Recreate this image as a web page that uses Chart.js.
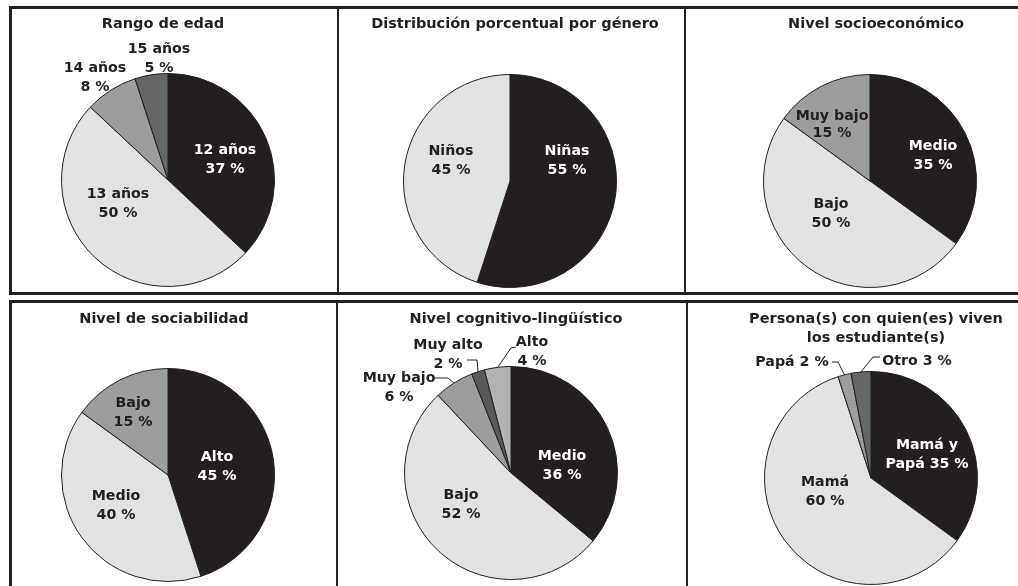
<!DOCTYPE html>
<html>
<head>
<meta charset="utf-8">
<script src="https://cdn.jsdelivr.net/npm/chart.js@4.4.1/dist/chart.umd.min.js"></script>
<style>
  html, body { margin: 0; padding: 0; background: #ffffff; }
  body { width: 1018px; height: 586px; position: relative; overflow: hidden; font-family: "DejaVu Sans", Verdana, sans-serif; }
  .box { position: absolute; border: 3px solid #231f20; box-sizing: border-box; }
  .vline { position: absolute; width: 2px; background: #231f20; }
  .title { position: absolute; width: 360px; text-align: center; font-weight: bold; font-size: 14.5px; line-height: 19px; color: #231f20; white-space: nowrap; }
  .pie { position: absolute; width: 340px; height: 290px; }
</style>
</head>
<body>
<div class="box" style="left:9px; top:6px; width:1030px; height:289px;"></div>
<div class="box" style="left:9px; top:300px; width:1030px; height:300px;"></div>
<div class="vline" style="left:337px; top:8px; height:286px;"></div>
<div class="vline" style="left:684px; top:8px; height:286px;"></div>
<div class="vline" style="left:336px; top:302px; height:290px;"></div>
<div class="vline" style="left:686px; top:302px; height:290px;"></div>

<script>
// ---------------- DATA ----------------
const titles = [
  ['Rango de edad'],
  ['Distribución porcentual por género'],
  ['Nivel socioeconómico'],
  ['Nivel de sociabilidad'],
  ['Nivel cognitivo-lingüístico'],
  ['Persona(s) con quien(es) viven', 'los estudiante(s)']
];

const edadCategories = ['12 años', '13 años', '14 años', '15 años'];
const edadValues = [37, 50, 8, 5];

const generoCategories = ['Niñas', 'Niños'];
const generoValues = [55, 45];

const socioCategories = ['Medio', 'Bajo', 'Muy bajo'];
const socioValues = [35, 50, 15];

const sociabCategories = ['Alto', 'Medio', 'Bajo'];
const sociabValues = [45, 40, 15];

const cognCategories = ['Medio', 'Bajo', 'Muy bajo', 'Muy alto', 'Alto'];
const cognValues = [36, 52, 6, 2, 4];

const viveCategories = ['Mamá y Papá', 'Mamá', 'Papá', 'Otro'];
const viveValues = [35, 60, 2, 3];

// ---------------- STYLE / LAYOUT ----------------
const BLACK = '#231f20', LIGHT = '#e1e2e4', MID = '#9c9d9f', DARK = '#656668', DARK2 = '#58595b', MIDL = '#b2b3b5';

const charts = [
  { cats: edadCategories, vals: edadValues, colors: [BLACK, LIGHT, MID, DARK],
    center: [168, 180], titleC: [163, 23],
    labels: [
      { d: [57, -20], color: '#fff', mode: 'stack' },
      { d: [-50, 24], mode: 'stack' },
      { d: [-73, -102], mode: 'stack' },
      { d: [-9, -121], mode: 'stack' }
    ] },
  { cats: generoCategories, vals: generoValues, colors: [BLACK, LIGHT],
    center: [510, 181], titleC: [515, 23],
    labels: [
      { d: [57, -20], color: '#fff', mode: 'stack' },
      { d: [-59, -20], mode: 'stack' }
    ] },
  { cats: socioCategories, vals: socioValues, colors: [BLACK, LIGHT, MID],
    center: [870, 181], titleC: [876, 23],
    labels: [
      { d: [63, -25], color: '#fff', mode: 'stack' },
      { d: [-39, 33], mode: 'stack' },
      { d: [-38, -56], mode: 'stack', lh: 17 }
    ] },
  { cats: sociabCategories, vals: sociabValues, colors: [BLACK, LIGHT, MID],
    center: [168, 475], titleC: [164, 318],
    labels: [
      { d: [49, -8], color: '#fff', mode: 'stack' },
      { d: [-52, 31], mode: 'stack' },
      { d: [-35, -62], mode: 'stack' }
    ] },
  { cats: cognCategories, vals: cognValues, colors: [BLACK, LIGHT, MID, DARK2, MIDL],
    center: [511, 473], titleC: [516, 318],
    labels: [
      { d: [51, -7], color: '#fff', mode: 'stack' },
      { d: [-50, 32], mode: 'stack' },
      { d: [-112, -85], mode: 'stack', leader: [-76, -95, -63, -95] },
      { d: [-63, -118], mode: 'stack', leader: [-44, -113, -34, -113] },
      { d: [21, -121], mode: 'stack', leader: [5, -126, 0, -125] }
    ] },
  { cats: viveCategories, vals: viveValues, colors: [BLACK, LIGHT, MID, DARK],
    center: [871, 478], titleC: [876, 318],
    labels: [
      { d: [56, -23], color: '#fff', mode: 'wrap' },
      { d: [-46, 14], mode: 'stack' },
      { d: [-79, -116], mode: 'inline', leader: [-39, -116, -33, -116] },
      { d: [46, -117], mode: 'inline', leader: [9, -121, 2, -121] }
    ] }
];

const PAD = { left: 63, right: 63, top: 60, bottom: 16 };
const FONT = 'bold 14.2px "DejaVu Sans", Verdana, sans-serif';

function labelLines(cat, val, mode) {
  if (mode === 'inline') return [cat + ' ' + val + ' %'];
  if (mode === 'wrap') {
    const i = cat.lastIndexOf(' ');
    return [cat.slice(0, i), cat.slice(i + 1) + ' ' + val + ' %'];
  }
  return [cat, val + ' %'];
}

const labelPlugin = {
  id: 'pieLabels',
  afterDraw(chart, args, opts) {
    const spec = opts.spec;
    const ctx = chart.ctx;
    const meta = chart.getDatasetMeta(0);
    ctx.save();
    ctx.font = FONT;
    ctx.textAlign = 'center';
    ctx.textBaseline = 'middle';
    meta.data.forEach((arc, i) => {
      const L = spec.labels[i];
      if (!L) return;
      const p = arc.getProps(['x', 'y', 'startAngle', 'endAngle', 'outerRadius'], true);
      const cx = p.x, cy = p.y;
      const lines = labelLines(spec.cats[i], spec.vals[i], L.mode);
      const lh = L.lh || 19;
      const y0 = cy + L.d[1] - (lines.length - 1) * lh / 2;
      ctx.fillStyle = L.color || BLACK;
      lines.forEach((t, k) => ctx.fillText(t, cx + L.d[0], y0 + k * lh));
      if (L.leader) {
        const mid = (p.startAngle + p.endAngle) / 2;
        const ex = cx + Math.cos(mid) * p.outerRadius;
        const ey = cy + Math.sin(mid) * p.outerRadius;
        ctx.strokeStyle = BLACK;
        ctx.lineWidth = 1;
        ctx.beginPath();
        ctx.moveTo(cx + L.leader[0], cy + L.leader[1]);
        ctx.lineTo(cx + L.leader[2], cy + L.leader[3]);
        ctx.lineTo(ex, ey);
        ctx.stroke();
      }
    });
    ctx.restore();
  }
};

charts.forEach((spec, idx) => {
  const div = document.createElement('div');
  div.className = 'pie';
  div.style.left = (spec.center[0] - PAD.left - 107) + 'px';
  div.style.top = (spec.center[1] - PAD.top - 107) + 'px';
  const cv = document.createElement('canvas');
  div.appendChild(cv);
  document.body.appendChild(div);

  const t = document.createElement('div');
  t.className = 'title';
  t.style.left = (spec.titleC[0] - 180) + 'px';
  t.style.top = (spec.titleC[1] - 9.5) + 'px';
  t.innerHTML = titles[idx].join('<br>');
  document.body.appendChild(t);

  new Chart(cv, {
    type: 'pie',
    data: {
      labels: spec.cats,
      datasets: [{ data: spec.vals, backgroundColor: spec.colors, borderColor: BLACK, borderWidth: 1 }]
    },
    options: {
      responsive: true,
      maintainAspectRatio: false,
      animation: false,
      layout: { padding: PAD },
      plugins: { legend: { display: false }, tooltip: { enabled: false }, pieLabels: { spec } },
      events: []
    },
    plugins: [labelPlugin]
  });
});
</script>
</body>
</html>
